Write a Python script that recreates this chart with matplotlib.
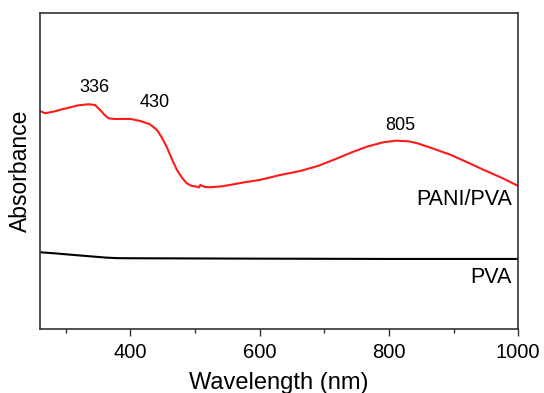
import matplotlib
matplotlib.use("Agg")
import matplotlib.pyplot as plt
from matplotlib.ticker import MultipleLocator

plt.rcParams['font.family'] = ['Liberation Sans', 'DejaVu Sans']

# PANI/PVA spectrum (arbitrary absorbance units)
pani_wl = [260, 268, 282, 296, 300, 318, 335, 345, 353, 360, 366, 375, 390, 400, 404, 415, 430,
           441, 448, 456, 464, 472, 480, 487, 495, 503, 506, 508, 515, 523, 540, 554, 575, 600,
           632, 663, 690, 714, 740, 766, 790, 810, 830, 844, 870, 896, 920, 947, 975, 1000]
pani_abs = [2.18, 2.157, 2.175, 2.20, 2.205, 2.235, 2.247, 2.24, 2.19, 2.14, 2.107, 2.10, 2.10,
            2.10, 2.095, 2.08, 2.047, 1.99, 1.92, 1.823, 1.70, 1.59, 1.51, 1.457, 1.43, 1.423,
            1.415, 1.44, 1.42, 1.417, 1.425, 1.44, 1.465, 1.49, 1.54, 1.58, 1.63, 1.69, 1.76,
            1.823, 1.865, 1.883, 1.877, 1.857, 1.80, 1.74, 1.67, 1.59, 1.51, 1.43]

# PVA spectrum
pva_wl = [260, 285, 312, 340, 363, 380, 400, 500, 600, 800, 1000]
pva_abs = [0.767, 0.755, 0.74, 0.725, 0.713, 0.708, 0.707, 0.705, 0.703, 0.70, 0.70]

peak_labels = ["336", "430", "805"]
peak_pos = [(344, 2.41), (437, 2.26), (817, 2.03)]

fig = plt.figure(figsize=(5.44, 3.93), dpi=100)
ax = fig.add_axes([0.0735, 0.163, 0.879, 0.804])

ax.plot(pani_wl, pani_abs, color='#ff1a1a', lw=1.5)
ax.plot(pva_wl, pva_abs, color='black', lw=1.5)

for lab, (x, y) in zip(peak_labels, peak_pos):
    ax.text(x, y, lab, ha='center', va='center', fontsize=13)

ax.text(990, 1.29, "PANI/PVA", ha='right', va='center', fontsize=15.5)
ax.text(990, 0.517, "PVA", ha='right', va='center', fontsize=15.5)

ax.set_xlim(260, 1000)
ax.set_ylim(0, 3.16)
ax.xaxis.set_major_locator(MultipleLocator(200))
ax.xaxis.set_minor_locator(MultipleLocator(100))
ax.set_yticks([])
ax.tick_params(axis='x', which='major', direction='out', length=5, width=1, labelsize=14.5,
               colors='#333333', labelcolor='black', pad=5)
ax.tick_params(axis='x', which='minor', direction='out', length=3, width=1, colors='#333333')
for s in ax.spines.values():
    s.set_color('#333333')
    s.set_linewidth(1.2)

ax.set_xlabel("Wavelength (nm)", fontsize=17, labelpad=7)
ax.set_ylabel("Absorbance", fontsize=16.5, labelpad=6)

fig.savefig("out.png", dpi=100)
